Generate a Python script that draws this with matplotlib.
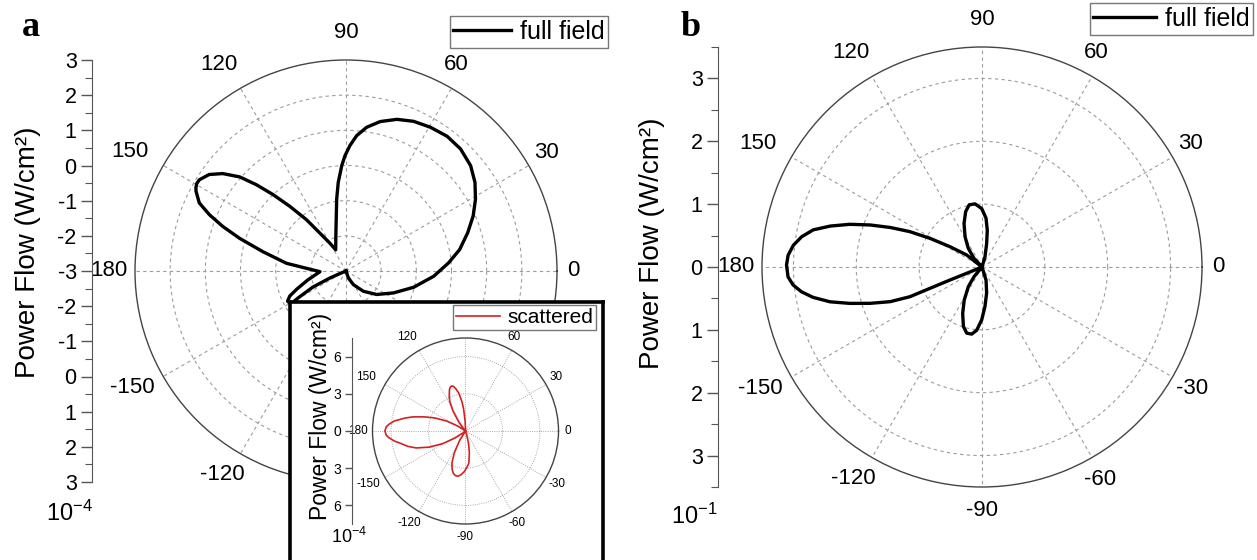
import numpy as np
import matplotlib
matplotlib.use('Agg')
import matplotlib.pyplot as plt
from matplotlib.lines import Line2D

# panel a: full field, radial scale -3..3 (x1e-4), centre is -3
a_theta = [-90, -71.3, -61.6, -49.4, -37.4, -24.7, -13.5, -3.4, 4.6, 10.7,
           17.5, 23.4, 29.0, 34.5, 40.2, 46.8, 53.1, 59.6, 65.7, 71.4,
           77.1, 81.8, 85.5, 88.2, 90.5, 92.3, 95.0, 97.4, 100.0, 104.7, 116.0,
           120.0, 124.6, 127.6, 131.0, 133.7, 136.1, 138.5, 141.7, 144.8, 148.1,
           149.6, 151.0, 152.0, 155.1, 157.6, 160.1, 162.9, 166.9, 172.6, 176.1, 181.5,
           193.3, 200.2, 204.0, 207.3, 211.0, 209.4, 205.9, 203.6, 202.6, 202.0]
a_r = [-3.0, -2.79, -2.56, -2.24, -1.90, -1.51, -1.02, -0.50, -0.07, 0.29,
       0.63, 0.94, 1.21, 1.45, 1.64, 1.76, 1.79, 1.74, 1.67, 1.55,
       1.36, 1.13, 0.86, 0.57, 0.28, 0.00, -0.47, -0.94, -1.41, -1.87, -2.33,
       -2.09, -1.69, -1.16, -0.56, 0.01, 0.54, 1.04, 1.47, 1.76, 1.91,
       1.92, 1.88, 1.83, 1.60, 1.20, 0.73, 0.17, -0.57, -1.29, -1.87, -2.26,
       -1.88, -1.51, -1.25, -1.13, -1.17, -1.43, -1.95, -2.50, -2.81, -3.0]

# panel b: full field, radial scale 0..3.5 (x1e-1)
b_theta = [0, 70, 73.8, 78.8, 81.8, 85.3, 90.3, 96.3, 101.6, 106.4,
           112.4, 119.3, 126.2, 132.6, 137, 141.9, 147.6, 151.1, 153.9, 156.7,
           159.4, 162.1, 164.9, 167.6, 170.5, 173.4, 176.5, 179.4, 182.9, 185.4,
           187.8, 190.2, 192.9, 195.4, 198.0, 200.7, 202.4, 202.3, 202.1, 202.4,
           215, 230.5, 235.2, 241.8, 247.4, 252.6, 257.0, 261.3, 265.2, 269.7,
           274.3, 280.1, 287.1, 292, 360]
b_r = [0, 0, 0.17, 0.38, 0.59, 0.78, 0.93, 1.01, 1.01, 0.92,
       0.75, 0.55, 0.37, 0.19, 0, 0.31, 0.60, 0.94, 1.28, 1.59,
       1.90, 2.21, 2.50, 2.75, 2.91, 3.02, 3.09, 3.11, 3.09, 3.02,
       2.90, 2.73, 2.48, 2.18, 1.87, 1.56, 1.24, 0.89, 0.55, 0.26,
       0, 0.20, 0.38, 0.60, 0.80, 0.99, 1.08, 1.08, 1.01, 0.84,
       0.63, 0.42, 0.22, 0, 0]

# inset: scattered field, radial scale 0..7.5 (x1e-4)
i_theta = [0, 88, 92, 95, 97, 100, 103, 105, 107, 109,
           111, 115, 118, 122, 127, 132, 136, 142, 147, 152,
           157, 161, 165, 168, 172, 175, 177, 180, 183, 185,
           188, 191, 195, 199, 204, 209, 214, 219, 223, 234,
           238, 243, 247, 251, 254, 257, 259, 261, 264, 268,
           272, 276, 280, 284, 288, 292, 360]
i_r = [0, 0, 0.8, 1.8, 2.4, 3.1, 3.5, 3.72, 3.8, 3.75,
       3.6, 3.1, 2.7, 1.9, 0.9, 0.2, 0, 0, 0.7, 1.7,
       2.7, 3.5, 4.4, 5.0, 5.8, 6.2, 6.4, 6.5, 6.4, 6.2,
       5.8, 5.3, 4.8, 4.2, 3.2, 2.1, 1.0, 0.2, 0, 0,
       0.9, 2.0, 2.8, 3.3, 3.55, 3.68, 3.7, 3.68, 3.55, 3.3,
       2.95, 2.6, 1.8, 1.0, 0.3, 0, 0]

angles = np.arange(0, 360, 30)
angle_labels = ['0', '30', '60', '90', '120', '150', '180',
                '-150', '-120', '-90', '-60', '-30']
# label centre offset from the rim point, px (x right, y down)
label_off = {'0': (16.5, 0), '30': (17.8, -13.5), '60': (4.5, -23.8),
             '90': (0, -28), '120': (-21.5, -23.8), '150': (-33.8, -14),
             '180': (-26, 0), '-150': (-31, 11), '-120': (-18.5, 21),
             '-90': (0, 23), '-60': (8.5, 21.5), '-30': (20, 11)}

W, H = 1257, 560
plt.rcParams['font.family'] = ['Liberation Sans', 'DejaVu Sans']
plt.rcParams['mathtext.fontset'] = 'custom'
plt.rcParams['mathtext.rm'] = 'Liberation Sans'
plt.rcParams['mathtext.default'] = 'regular'

fig = plt.figure(figsize=(W / 100, H / 100), dpi=100)


def rect(x0, y0, x1, y1):
    return [x0 / W, 1 - y1 / H, (x1 - x0) / W, (y1 - y0) / H]


def polar_panel(cx, cy, R, rlim, rings, fs, scale=1.0, ls=(0, (3, 3)), zorder=1, skip=()):
    ax = fig.add_axes(rect(cx - R, cy - R, cx + R, cy + R), projection='polar', zorder=zorder)
    ax.set_ylim(*rlim)
    ax.set_xticks(np.radians(angles))
    ax.set_xticklabels([])
    ax.set_xticks(np.radians(angles + 15), minor=True)
    ax.set_yticks(rings)
    ax.set_yticklabels([])
    ax.tick_params(axis='y', length=0)
    ax.grid(True, color='#9c9c9c', linestyle=ls, linewidth=0.8 * max(scale, 0.8))
    ax.tick_params(axis='x', which='major', direction='in', length=8 * scale, width=1, color='#444')
    ax.tick_params(axis='x', which='minor', direction='in', length=5 * scale, width=0.8, color='#444')
    ax.spines['polar'].set_edgecolor('#444')
    ax.spines['polar'].set_linewidth(1)
    for a, lab in zip(angles, angle_labels):
        if lab in skip:
            continue
        dx, dy = label_off[lab]
        t = np.radians(a)
        u = 0.5 + (R * np.cos(t) + dx * scale) / (2 * R)
        v = 0.5 + (R * np.sin(t) - dy * scale) / (2 * R)
        ax.text(u, v, lab, transform=ax.transAxes, ha='center', va='center',
                fontsize=fs, clip_on=False)
    return ax


def radial_axis(x, cy, R, lim, ticks, labels, minor, fs, zorder=2, tl=8):
    ax = fig.add_axes(rect(x, cy - R, x + 1, cy + R), zorder=zorder)
    ax.set_ylim(-lim, lim)
    ax.patch.set_visible(False)
    for s in ['top', 'right', 'bottom']:
        ax.spines[s].set_visible(False)
    ax.spines['left'].set_color('#555')
    ax.set_xticks([])
    ax.set_yticks(ticks)
    ax.set_yticklabels(labels, fontsize=fs)
    ax.set_yticks(minor, minor=True)
    ax.tick_params(axis='y', which='major', length=tl, width=1, color='#555', pad=3)
    ax.tick_params(axis='y', which='minor', length=tl * 0.6, width=0.8, color='#555')
    return ax


def add_legend(ax, color, lw, text, right, top, fs, hl):
    leg = ax.legend(handles=[Line2D([], [], color=color, lw=lw)], labels=[text],
                    loc='upper right', bbox_to_anchor=(right / W, 1 - top / H),
                    bbox_transform=fig.transFigure, fontsize=fs, fancybox=False,
                    framealpha=1, edgecolor='#777', borderpad=0.15, borderaxespad=0,
                    handlelength=hl, handletextpad=0.35)
    leg.get_frame().set_linewidth(1)


# ---- panel a ----
axa = polar_panel(346, 271, 211, (-3, 3), [-2, -1, 0, 1, 2], 16, skip=('-90', '-60', '-30'))
axa.plot(np.radians(a_theta), a_r, color='k', lw=2.4, solid_joinstyle='round')
add_legend(axa, 'k', 2.4, 'full field', 608, 16, 18, 2.3)
ta = np.arange(-6, 7)
radial_axis(92, 271, 211, 6, ta, [f'{abs(t) - 3:d}' for t in ta], np.arange(-5.5, 6, 1), 15.5)
fig.text(28 / W, 1 - 252 / H, 'Power Flow (W/cm²)', rotation=90, ha='center', va='center', fontsize=20)
fig.text(93 / W, 1 - 521 / H, r'10$^{-4}$', ha='right', va='baseline', fontsize=17)
fig.text(22 / W, 1 - 36 / H, 'a', family='Liberation Serif', weight='bold', fontsize=26, va='baseline')

# ---- panel b ----
axb = polar_panel(982, 267, 220, (0, 3.5), [1, 2, 3], 16)
axb.plot(np.radians(b_theta), b_r, color='k', lw=2.4, solid_joinstyle='round')
add_legend(axb, 'k', 2.4, 'full field', 1253, 3, 18, 2.5)
tb = np.arange(-3, 4)
radial_axis(718, 267, 220, 3.5, tb, [f'{abs(t):d}' for t in tb], np.arange(-3.5, 3.6, 1), 15.5)
fig.text(652 / W, 1 - 243 / H, 'Power Flow (W/cm²)', rotation=90, ha='center', va='center', fontsize=20)
fig.text(718 / W, 1 - 524 / H, r'10$^{-1}$', ha='right', va='baseline', fontsize=17)
fig.text(681 / W, 1 - 36 / H, 'b', family='Liberation Serif', weight='bold', fontsize=26, va='baseline')

# ---- inset ----
box = fig.add_axes(rect(290, 302, 603, 564), zorder=5)
box.set_xticks([])
box.set_yticks([])
for s in box.spines.values():
    s.set_linewidth(2.6)
    s.set_color('k')

axi = polar_panel(465.5, 431, 93, (0, 7.5), [3, 6], 8.5, scale=0.55, ls=(0, (1, 1.5)), zorder=6)
axi.plot(np.radians(i_theta), i_r, color='#d42020', lw=1.2)
add_legend(axi, '#d42020', 1.2, 'scattered', 596, 305, 15, 2.1)
ti = np.array([-6, -3, 0, 3, 6])
radial_axis(352, 431, 93, 7.5, ti, [f'{abs(t):d}' for t in ti], [], 10, zorder=7, tl=5)
fig.text(321 / W, 1 - 416 / H, 'Power Flow (W/cm²)', rotation=90, ha='center', va='center',
         fontsize=16.5, zorder=8)
fig.text(367 / W, 1 - 543 / H, r'10$^{-4}$', ha='right', va='baseline', fontsize=13, zorder=8)

fig.savefig('out.png', dpi=100)
